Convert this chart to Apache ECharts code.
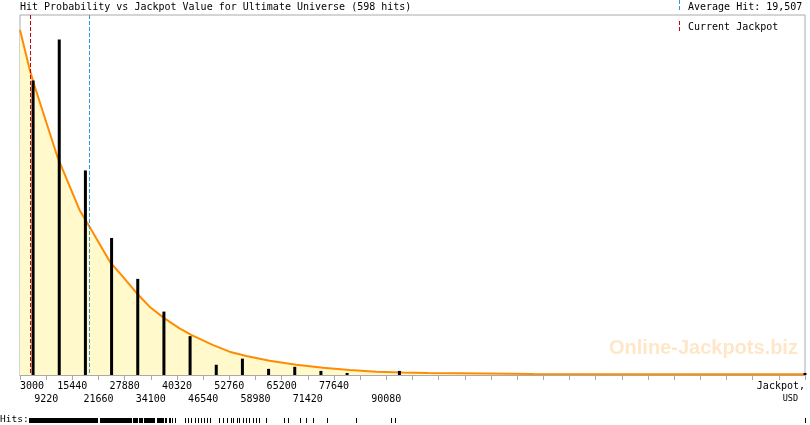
<!DOCTYPE html>
<html><head><meta charset="utf-8">
<script src="https://cdn.jsdelivr.net/npm/echarts@6/dist/echarts.min.js"></script>
<style>html,body{margin:0;padding:0;background:#fff}#c{width:810px;height:425px}</style>
</head><body><div id="c"></div>
<script>
// ---- data ----
const chartTitle = 'Hit Probability vs Jackpot Value for Ultimate Universe (598 hits)';
const jackpotMin = 3000;
const jackpotStep = 6220;
const stepCount = 30;
const levelMax = 176;
const tickLabels = ['3000','9220','15440','21660','27880','34100','40320','46540','52760','58980','65200','71420','77640','','90080'];
const tickRows   = [0,1,0,1,0,1,0,1,0,1,0,1,0,0,1];
const axisTitle = ['Jackpot,', 'USD'];
const avgHit = 19507;
const currentJackpot = 5330;
const barCenters = [6110, 12330, 18550, 24770, 30990, 37210, 43430, 49650, 55870, 62090, 68310, 74530, 80750, 93190, 189600];
const barHits    = [144, 164, 100, 67, 47, 31, 19, 5, 8, 3, 4, 2, 1, 2, 1];
const curveUSD   = [3000, 5330, 6614, 11988, 15958, 17147, 19525, 24518, 27442, 30700, 33791, 37357, 40924, 43706, 48770, 52812, 56783, 62323, 68672, 74996, 81345, 87693, 93946, 100000, 113700, 125000, 189600];
const curveLevel = [168.7, 149.1, 140.3, 106.1, 86.6, 80.7, 72.5, 54.9, 48.1, 40.1, 33.4, 27.7, 22.8, 19.6, 14.7, 11.4, 9.3, 7.0, 5.0, 3.6, 2.4, 1.6, 1.2, 1.0, 0.7, 0.45, 0.35];
const rugSpans = [[5092,21594],[21903,28251],[28489,29583],[29916,31009],[31247,32127],[32436,34980],[35622,37191],[37524,38000],[38311,38787],[39093,39426],[39735,40044]];
const rugTicks = [42113,42898,43706,44491,45276,45918,46702,47344,48129,50196,51147,52098,53049,53525,54476,55118,55974,56782,57329,58280,59065,59873,61371,65651,66602,69622,71049,72618,75947,82938,91165,92116,189600];
const watermark = 'Online-Jackpots.biz';
const legendAvg = 'Average Hit: ';
const legendCur = 'Current Jackpot';
const hitsLabel = 'Hits:';

// ---- build ----
const toIdx = v => (v - jackpotMin) / jackpotStep;
const mono = '"DejaVu Sans Mono", "Liberation Mono", monospace';
const redC = '#cc0000', blueC = '#3399dd';
const vLineColors = [redC, blueC];
const chart = echarts.init(document.getElementById('c'), null, {renderer: 'canvas'});

const curveData = curveUSD.map((v, i) => [toIdx(v), curveLevel[i]]);
const barData = barCenters.map((v, i) => [toIdx(v), barHits[i]]);
const spanData = rugSpans.map(s => [toIdx(s[0]), toIdx(s[1])]);
const tickData = rugTicks.map(v => [toIdx(v), toIdx(v)]);
const vLineData = [currentJackpot, avgHit].map(v => [toIdx(v)]);

function rugRender(params, api) {
  const p0 = api.coord([api.value(0), 1]);
  const p1 = api.coord([api.value(1), 0]);
  const x0 = Math.round(p0[0]);
  const w = Math.max(1, Math.round(p1[0] - p0[0]));
  return {type: 'rect', shape: {x: x0, y: p0[1], width: w, height: p1[1] - p0[1]}, style: {fill: '#000'}};
}
function vLineRender(params, api) {
  const top = api.coord([api.value(0), levelMax]);
  const bot = api.coord([api.value(0), 0]);
  const x = Math.round(top[0]) + 0.5;
  return {type: 'line', shape: {x1: x, y1: top[1], x2: x, y2: bot[1]},
    style: {stroke: vLineColors[params.dataIndex], fill: null, lineWidth: 1, lineDash: [4, 2]}};
}
function rowLabel(row) {
  return function (val) {
    const i = Math.round(val);
    if (i === stepCount) return row === 0 ? axisTitle[0] : '{u|' + axisTitle[1] + '}';
    if (i < tickLabels.length && tickLabels[i] && tickRows[i] === row) return tickLabels[i];
    return '';
  };
}
const labelBase = {
  show: true, showMinLabel: true, showMaxLabel: true, hideOverlap: false,
  color: '#000', fontFamily: mono, fontSize: 10,
  alignMinLabel: 'left', alignMaxLabel: 'right',
  rich: {u: {fontFamily: mono, fontSize: 8.5, color: '#000', padding: [0, 7, 0, 0]}}
};

const option = {
  animation: false,
  backgroundColor: '#fff',
  grid: [
    {left: 20, right: 5, top: 15, height: 360, show: true, borderColor: '#aaa', borderWidth: 1},
    {left: 20, right: 5, top: 418, height: 5}
  ],
  xAxis: [
    {
      type: 'value', gridIndex: 0, min: 0, max: stepCount, interval: 1, position: 'bottom',
      axisLine: {show: true, lineStyle: {color: '#aaa', width: 1}},
      axisTick: {show: true, length: 5, lineStyle: {color: '#aaa'}},
      splitLine: {show: false},
      axisLabel: Object.assign({}, labelBase, {margin: 6, formatter: rowLabel(0)})
    },
    {
      type: 'value', gridIndex: 0, min: 0, max: stepCount, interval: 1, position: 'bottom', offset: 0,
      axisLine: {show: false}, axisTick: {show: false}, splitLine: {show: false},
      axisLabel: Object.assign({}, labelBase, {margin: 19, formatter: rowLabel(1)})
    },
    {type: 'value', gridIndex: 1, min: 0, max: stepCount, show: false}
  ],
  yAxis: [
    {type: 'value', gridIndex: 0, min: 0, max: levelMax, show: false, splitLine: {show: false}},
    {type: 'value', gridIndex: 1, min: 0, max: 1, show: false}
  ],
  series: [
    {
      type: 'line', xAxisIndex: 0, yAxisIndex: 0, data: curveData, symbol: 'none', smooth: false,
      lineStyle: {color: '#ff8c00', width: 2}, areaStyle: {color: '#fff9cc', opacity: 1}, z: 1
    },
    {type: 'custom', xAxisIndex: 0, yAxisIndex: 0, data: vLineData, renderItem: vLineRender, z: 2},
    {
      type: 'bar', xAxisIndex: 0, yAxisIndex: 0, data: barData, barWidth: 3, clip: false,
      itemStyle: {color: '#000'}, z: 3
    },
    {type: 'custom', xAxisIndex: 2, yAxisIndex: 1, data: spanData, renderItem: rugRender, clip: false},
    {type: 'custom', xAxisIndex: 2, yAxisIndex: 1, data: tickData, renderItem: rugRender, clip: false}
  ],
  graphic: [
    {type: 'text', x: 20, y: 7, z: 10, style: {text: chartTitle, font: '10px ' + mono, fill: '#000', align: 'left', verticalAlign: 'middle', textAlign: 'left', textVerticalAlign: 'middle'}},
    {type: 'line', z: 10, shape: {x1: 679.5, y1: 0, x2: 679.5, y2: 12}, style: {stroke: blueC, lineWidth: 1, lineDash: [4, 2]}},
    {type: 'text', x: 688, y: 7, z: 10, style: {text: legendAvg + avgHit.toLocaleString('en-US'), font: '10px ' + mono, fill: '#000', align: 'left', verticalAlign: 'middle', textAlign: 'left', textVerticalAlign: 'middle'}},
    {type: 'line', z: 10, shape: {x1: 679.5, y1: 21, x2: 679.5, y2: 33}, style: {stroke: redC, lineWidth: 1, lineDash: [4, 2]}},
    {type: 'text', x: 688, y: 27, z: 10, style: {text: legendCur, font: '10px ' + mono, fill: '#000', align: 'left', verticalAlign: 'middle', textAlign: 'left', textVerticalAlign: 'middle'}},
    {type: 'text', x: 609, y: 348, z: 0, style: {text: watermark, font: 'bold 20px "Liberation Sans", Arial, sans-serif', fill: 'rgba(255,140,0,0.22)', align: 'left', verticalAlign: 'middle', textAlign: 'left', textVerticalAlign: 'middle'}},
    {type: 'text', x: 0, y: 419.5, z: 10, style: {text: hitsLabel, font: '9.5px ' + mono, fill: '#000', align: 'left', verticalAlign: 'middle', textAlign: 'left', textVerticalAlign: 'middle'}}
  ]
};
chart.setOption(option);
</script></body></html>
